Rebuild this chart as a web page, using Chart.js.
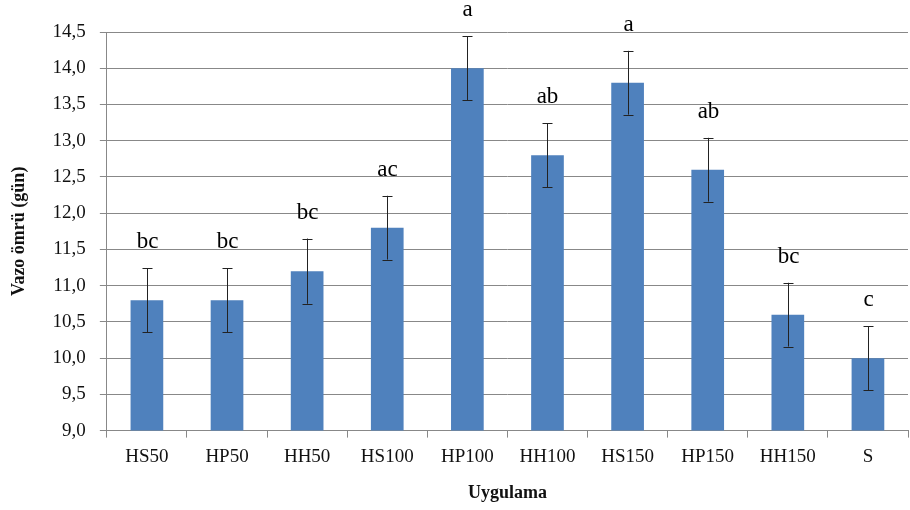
<!DOCTYPE html>
<html>
<head>
<meta charset="utf-8">
<script src="https://cdn.jsdelivr.net/npm/chart.js@4"></script>
<style>
  html, body { margin: 0; padding: 0; background: #fff; }
  #wrap { width: 910px; height: 510px; }
</style>
</head>
<body>
<div id="wrap"><canvas id="vazoChart"></canvas></div>
<script>
// DATA
const categories = ['HS50', 'HP50', 'HH50', 'HS100', 'HP100', 'HH100', 'HS150', 'HP150', 'HH150', 'S'];
const vaseLife = [10.8, 10.8, 11.2, 11.8, 14.0, 12.8, 13.8, 12.6, 10.6, 10.0];
const stdErr = [0.44, 0.44, 0.45, 0.44, 0.44, 0.44, 0.44, 0.44, 0.44, 0.44];
const letters = ['bc', 'bc', 'bc', 'ac', 'a', 'ab', 'a', 'ab', 'bc', 'c'];

const serif = '"Liberation Serif", "Times New Roman", serif';

// error bars + significance letters
const errorBars = {
    id: 'errorBars',
    afterDatasetsDraw(chart) {
        const ctx = chart.ctx;
        const y = chart.scales.y;
        const meta = chart.getDatasetMeta(0);
        ctx.save();
        ctx.strokeStyle = '#222';
        ctx.lineWidth = 1;
        meta.data.forEach((bar, i) => {
            const top = y.getPixelForValue(vaseLife[i] + stdErr[i]);
            const bot = y.getPixelForValue(vaseLife[i] - stdErr[i]);
            const x = Math.round(bar.x) + 0.5;
            ctx.beginPath();
            ctx.moveTo(x, top); ctx.lineTo(x, bot);
            ctx.moveTo(x - 5, Math.round(top) + 0.5); ctx.lineTo(x + 5, Math.round(top) + 0.5);
            ctx.moveTo(x - 5, Math.round(bot) + 0.5); ctx.lineTo(x + 5, Math.round(bot) + 0.5);
            ctx.stroke();
            ctx.fillStyle = '#000';
            ctx.font = '23px ' + serif;
            ctx.textAlign = 'center';
            ctx.textBaseline = 'alphabetic';
            ctx.fillText(letters[i], x, top - 20);
        });
        ctx.restore();
    }
};

new Chart(document.getElementById('vazoChart'), {
    type: 'bar',
    data: {
        labels: categories,
        datasets: [{
            label: 'Vazo ömrü',
            data: vaseLife,
            backgroundColor: '#4f81bd',
            borderWidth: 0,
            barPercentage: 0.8,
            categoryPercentage: 0.51
        }]
    },
    options: {
        responsive: true,
        maintainAspectRatio: false,
        animation: false,
        layout: { padding: { top: 32, right: 2, left: 5, bottom: 2 } },
        scales: {
            x: {
                grid: { drawOnChartArea: false, drawTicks: true, tickLength: 7, color: '#888' },
                border: { color: '#888' },
                ticks: { color: '#111', font: { family: serif, size: 19 }, padding: 8 },
                title: { display: true, text: 'Uygulama', color: '#111', font: { family: serif, size: 18, weight: 'bold' }, padding: { top: 6 } }
            },
            y: {
                min: 9, max: 14.5,
                grid: { color: '#888', tickLength: 7 },
                border: { color: '#888' },
                ticks: {
                    stepSize: 0.5,
                    color: '#111',
                    font: { family: serif, size: 19 },
                    padding: 14,
                    callback: v => v.toFixed(1).replace('.', ',')
                },
                title: { display: true, text: 'Vazo ömrü (gün)', color: '#111', font: { family: serif, size: 18, weight: 'bold' }, padding: { bottom: 8 } }
            }
        },
        plugins: {
            legend: { display: false },
            tooltip: { enabled: false }
        }
    },
    plugins: [errorBars]
});
</script>
</body>
</html>
